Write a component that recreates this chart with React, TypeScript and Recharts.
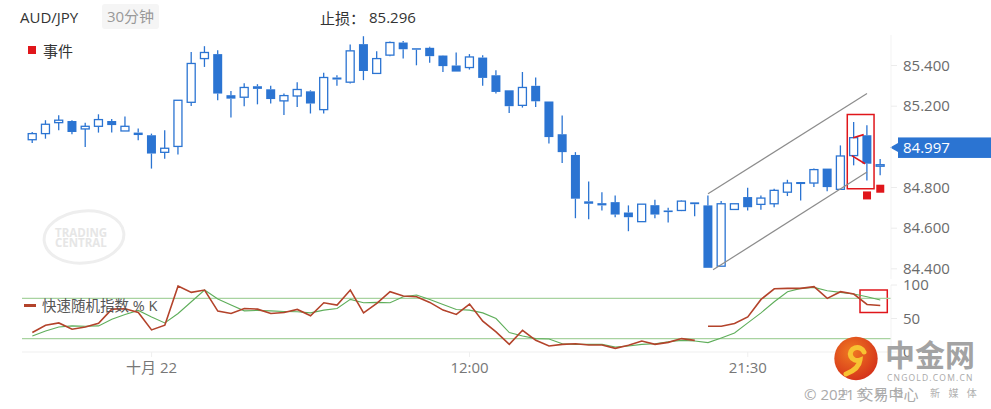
import React from "react";
import {
  ComposedChart,
  Bar,
  Line,
  Scatter,
  XAxis,
  YAxis,
  ReferenceLine,
  ReferenceArea,
} from "recharts";

// AUD/JPY 30分钟 K线 (index 0..64)
const opens = [
  85.035, 85.065, 85.119, 85.127, 85.088, 85.101, 85.127, 85.078, 85.070, 85.057,
  84.973, 85.002, 85.219, 85.434, 85.456, 85.254, 85.244, 85.298, 85.283, 85.226,
  85.250, 85.273, 85.183, 85.341, 85.318, 85.505, 85.361, 85.451, 85.513, 85.485,
  85.487, 85.449, 85.400, 85.390, 85.439, 85.352, 85.278, 85.204, 85.300, 85.223,
  85.062, 84.960, 84.732, 84.723, 84.728, 84.677, 84.632, 84.713, 84.687, 84.687,
  84.727, 84.712, 84.413, 84.692, 84.753, 84.717, 84.720, 84.777, 84.827, 84.822,
  84.893, 84.791, 84.957, 85.057, 84.907,
];
const highs = [
  85.073, 85.131, 85.155, 85.131, 85.119, 85.160, 85.137, 85.149, 85.090, 85.065,
  85.081, 85.229, 85.467, 85.495, 85.475, 85.275, 85.313, 85.308, 85.300, 85.262,
  85.318, 85.278, 85.364, 85.352, 85.503, 85.544, 85.470, 85.518, 85.521, 85.485,
  85.492, 85.451, 85.464, 85.456, 85.451, 85.377, 85.278, 85.368, 85.341, 85.223,
  85.154, 84.974, 84.830, 84.777, 84.761, 84.712, 84.718, 84.740, 84.700, 84.736,
  84.727, 84.761, 84.733, 84.720, 84.799, 84.761, 84.794, 84.838, 84.827, 84.893,
  84.893, 85.007, 85.122, 85.106, 84.940,
];
const lows = [
  85.019, 85.040, 85.081, 85.062, 84.999, 85.070, 85.070, 85.078, 85.032, 84.893,
  84.942, 84.962, 85.201, 85.393, 85.229, 85.144, 85.200, 85.209, 85.213, 85.157,
  85.196, 85.164, 85.164, 85.300, 85.311, 85.328, 85.361, 85.446, 85.434, 85.401,
  85.413, 85.368, 85.370, 85.380, 85.300, 85.262, 85.167, 85.193, 85.196, 85.016,
  84.920, 84.649, 84.644, 84.687, 84.654, 84.585, 84.632, 84.649, 84.628, 84.684,
  84.659, 84.405, 84.413, 84.692, 84.687, 84.691, 84.703, 84.758, 84.736, 84.802,
  84.781, 84.791, 84.909, 84.835, 84.860,
];
const closes = [
  85.065, 85.111, 85.131, 85.073, 85.101, 85.134, 85.107, 85.101, 85.058, 84.967,
  84.993, 85.229, 85.410, 85.464, 85.262, 85.237, 85.292, 85.285, 85.235, 85.252,
  85.282, 85.213, 85.341, 85.331, 85.472, 85.373, 85.434, 85.513, 85.480, 85.479,
  85.446, 85.397, 85.370, 85.442, 85.339, 85.270, 85.200, 85.292, 85.224, 85.048,
  84.974, 84.745, 84.720, 84.712, 84.667, 84.654, 84.718, 84.667, 84.679, 84.733,
  84.718, 84.405, 84.720, 84.720, 84.703, 84.748, 84.786, 84.822, 84.817, 84.888,
  84.802, 84.955, 85.045, 84.917, 84.912,
];

// 快速随机指数 %K (红) 与 %D (绿)
const kFast = [
  29, 40, 43.4, 34, 37.4, 43, 64, 64.5, 59, 33,
  40, 98.5, 89, 92.5, 61, 57.5, 65, 64, 57.5, 59,
  63.5, 54, 73.5, 70, 92.5, 58.4, 72.5, 90, 83.5, 82.4,
  74, 62.5, 56, 71.5, 46, 30, 11.4, 32.4, 17.4, 9,
  11.4, 12.4, 10.4, 10.4, 5.4, 10, 16.4, 11.4, 14.4, 20,
  17.4, 38.4, 38.4, 42.5, 52.4, 78.5, 94.4, 95, 95, 97.5,
  80, 90, 86.5, 71, 69.5,
];
const K_BREAK = 50; // %K 在此之后断开
const dSlow = [
  24, 31.4, 37.4, 39, 38.4, 39, 49, 56, 62, 52.4,
  43.4, 57.5, 75, 92.5, 79, 70, 61.4, 62, 61.4, 60.5,
  60, 58.4, 62.5, 65, 78.5, 73.5, 74, 73.5, 82.4, 85,
  78.5, 71, 63.5, 62.5, 58.4, 50, 29, 24, 20, 19.4,
  12.4, 11.4, 11.4, 11.4, 7.4, 9, 11.4, 12.4, 15.4, 17.4,
  16.4, 14, 21, 28.4, 43.4, 58.4, 75, 90, 95, 96.5,
  91.4, 89, 86.5, 82.4, 77.5,
];

const timeTicks = [9, 33, 54];
const timeLabels = ["十月 22", "12:00", "21:30"];
const priceTicks = [84.4, 84.6, 84.8, 85.2, 85.4];
const stochTicks = [0, 50, 100];
const lastPrice = 84.997;
const stopLoss = "85.296";

const events = [
  { i: 63, p: 84.761 },
  { i: 64, p: 84.794 },
];
const channelUpper = [
  { x: 51, y: 84.769 },
  { x: 63, y: 85.262 },
];
const channelLower = [
  { x: 51.38, y: 84.395 },
  { x: 63, y: 84.876 },
];
const patternTop = [
  { x: 61.95, y: 85.045 },
  { x: 62.75, y: 85.06 },
];
const patternBottom = [
  { x: 61.85, y: 84.957 },
  { x: 62.85, y: 84.917 },
];

const BLUE = "#2b74d2";
const RED = "#e0161b";
const FONT = "'Open Sans', 'Noto Sans CJK SC', sans-serif";
const X_DOMAIN: [number, number] = [-0.78, 64.81];

const rows = opens.map((o, i) => ({
  i,
  o,
  h: highs[i],
  l: lows[i],
  c: closes[i],
  range: [lows[i], highs[i]],
  k1: i <= K_BREAK ? kFast[i] : null,
  k2: i > K_BREAK ? kFast[i] : null,
  d: dSlow[i],
}));

const Candle = (props: any) => {
  const { x, y, width, height, payload } = props;
  const { o, h, l, c } = payload;
  const cx = x + width / 2;
  const ratio = h === l ? 0 : height / (h - l);
  const yOf = (v: number) => y + (h - v) * ratio;
  const up = c >= o;
  const top = yOf(Math.max(o, c));
  const bot = yOf(Math.min(o, c));
  const bh = Math.max(bot - top, 1.5);
  return (
    <g>
      <line x1={cx} x2={cx} y1={y} y2={top} stroke={BLUE} strokeWidth={1.3} />
      <line x1={cx} x2={cx} y1={top + bh} y2={y + height} stroke={BLUE} strokeWidth={1.3} />
      {up ? (
        <rect x={cx - 4} y={top} width={8} height={bh} fill="#fff" stroke={BLUE} strokeWidth={1.3} />
      ) : (
        <rect x={cx - 4.5} y={top} width={9} height={bh} fill={BLUE} />
      )}
    </g>
  );
};

const EventMark = (props: any) => (
  <rect x={props.cx - 4} y={props.cy - 4} width={8} height={8} fill={RED} />
);

const PriceTag = (props: any) => {
  const vb = props.viewBox;
  const x = vb.x + vb.width;
  const y = vb.y;
  return (
    <g>
      <polygon points={`${x - 1},${y} ${x + 7},${y - 4.5} ${x + 7},${y + 4.5}`} fill={BLUE} />
      <rect x={x + 7} y={y - 10} width={100} height={20.5} fill={BLUE} />
      <text x={x + 12} y={y} dy="0.36em" fill="#fff" fontSize={15} fontFamily={FONT}>
        {lastPrice.toFixed(3)}
      </text>
    </g>
  );
};

const axisTick = { fill: "#6b6b6b", fontSize: 15, fontFamily: FONT };

export default function App() {
  return (
    <div style={{ position: "absolute", left: 0, top: 0, width: 991, height: 409, background: "#fff", fontFamily: FONT, overflow: "hidden" }}>
      {/* header */}
      <div style={{ position: "absolute", left: 20, top: 7, fontSize: 15, color: "#333" }}>AUD/JPY</div>
      <div style={{ position: "absolute", left: 102, top: 4, width: 57, height: 25, background: "#f5f5f5", borderRadius: 3, fontSize: 15, color: "#999", textAlign: "center", lineHeight: "25px" }}>
        30分钟
      </div>
      <div style={{ position: "absolute", left: 320, top: 7, fontSize: 15, color: "#333" }}>止损：</div>
      <div style={{ position: "absolute", left: 369, top: 7, fontSize: 15, color: "#333" }}>{stopLoss}</div>
      <div style={{ position: "absolute", left: 28, top: 46, width: 8, height: 8, background: RED }} />
      <div style={{ position: "absolute", left: 43, top: 40, fontSize: 15, color: "#333" }}>事件</div>

      {/* Trading Central watermark */}
      <svg width={991} height={409} style={{ position: "absolute", left: 0, top: 0 }}>
        <ellipse cx={84} cy={237} rx={40} ry={26} fill="none" stroke="#eeeeee" strokeWidth={3} transform="rotate(-6 84 237)" />
        <text x={55} y={237} fontSize={11.5} fontWeight={700} fill="#e6e6e6" fontFamily={FONT}>TRADING</text>
        <text x={55} y={247} fontSize={11.5} fontWeight={700} fill="#e6e6e6" fontFamily={FONT}>CENTRAL</text>
      </svg>

      {/* price chart */}
      <div style={{ position: "absolute", left: 0, top: 0 }}>
        <ComposedChart width={991} height={279} data={rows} margin={{ top: 35, right: 0, bottom: 0, left: 22 }}>
          <XAxis dataKey="i" type="number" domain={X_DOMAIN} allowDataOverflow hide />
          <YAxis
            orientation="right"
            type="number"
            domain={[84.35, 85.55]}
            allowDataOverflow
            ticks={priceTicks}
            tickFormatter={(v: number) => v.toFixed(3)}
            width={100}
            tick={axisTick}
            axisLine={{ stroke: "#f3f3f3" }}
            tickLine={{ stroke: "#ececec" }}
            tickSize={6}
            tickMargin={6}
          />
          <ReferenceLine segment={channelUpper} stroke="#8c8c8c" strokeWidth={1.2} />
          <ReferenceLine segment={channelLower} stroke="#8c8c8c" strokeWidth={1.2} />
          <Bar dataKey="range" barSize={9} shape={(p: any) => <Candle {...p} />} isAnimationActive={false} />
          <ReferenceLine segment={patternTop} stroke={RED} strokeWidth={1.6} />
          <ReferenceLine segment={patternBottom} stroke={RED} strokeWidth={1.6} />
          <ReferenceArea x1={61.51} x2={63.53} y1={84.794} y2={85.159} fill="none" stroke={RED} strokeWidth={1.5} ifOverflow="visible" />
          <Scatter data={events} dataKey="p" shape={(p: any) => <EventMark {...p} />} isAnimationActive={false} />
          <ReferenceLine y={lastPrice} stroke="none" label={(p: any) => <PriceTag {...p} />} />
        </ComposedChart>
      </div>

      {/* stochastic chart */}
      <div style={{ position: "absolute", left: 0, top: 270 }}>
        <ComposedChart width={991} height={139} data={rows} margin={{ top: 15, right: 0, bottom: 27, left: 22 }}>
          <XAxis
            dataKey="i"
            type="number"
            domain={X_DOMAIN}
            allowDataOverflow
            ticks={timeTicks}
            tickFormatter={(v: number) => timeLabels[timeTicks.indexOf(v)] ?? ""}
            height={30}
            tick={{ fill: "#777", fontSize: 15, fontFamily: FONT }}
            axisLine={{ stroke: "#efefef" }}
            tickLine={{ stroke: "#efefef" }}
            tickSize={5}
            tickMargin={5}
          />
          <YAxis
            orientation="right"
            type="number"
            domain={[0, 100]}
            allowDataOverflow
            ticks={stochTicks}
            width={100}
            tick={axisTick}
            axisLine={{ stroke: "#f3f3f3" }}
            tickLine={{ stroke: "#ececec" }}
            tickSize={6}
            tickMargin={6}
          />
          <ReferenceLine y={80} stroke="#a8d3a0" strokeWidth={1.2} />
          <ReferenceLine y={20} stroke="#a8d3a0" strokeWidth={1.2} />
          <Line type="linear" dataKey="d" stroke="#5fae5b" strokeWidth={1.1} dot={false} isAnimationActive={false} />
          <Line type="linear" dataKey="k1" stroke="#b3432b" strokeWidth={1.6} dot={false} isAnimationActive={false} />
          <Line type="linear" dataKey="k2" stroke="#b3432b" strokeWidth={1.6} dot={false} isAnimationActive={false} />
          <ReferenceArea x1={62.47} x2={64.53} y1={59} y2={92.5} fill="none" stroke={RED} strokeWidth={1.5} ifOverflow="visible" />
        </ComposedChart>
      </div>

      {/* stochastic legend */}
      <div style={{ position: "absolute", left: 24, top: 304, width: 12, height: 3, background: "#b3432b" }} />
      <div style={{ position: "absolute", left: 42, top: 294, fontSize: 14.5, color: "#555", whiteSpace: "nowrap" }}>
        快速随机指数 % K
      </div>

      {/* cngold logo watermark */}
      <svg width={991} height={409} style={{ position: "absolute", left: 0, top: 0 }}>
        <defs>
          <radialGradient id="lg" cx="0.4" cy="0.35" r="0.7">
            <stop offset="0%" stopColor="#f07a22" />
            <stop offset="100%" stopColor="#d4301a" />
          </radialGradient>
        </defs>
        <circle cx={856} cy={358.5} r={21.7} fill="url(#lg)" />
        <path d="M 864 352 a 7 6.5 0 1 0 -4 8 q -1 9 -14 14" fill="none" stroke="#f7c332" strokeWidth={5} strokeLinecap="round" />
        <text x={885} y={366} fontSize={30} fontWeight={700} fill="#a3a3a3" fontFamily={FONT}>中金网</text>
        <text x={887} y={381} fontSize={8.5} fill="#a8a8a8" letterSpacing={1.2} fontFamily={FONT}>CNGOLD.COM.CN</text>
        <text x={838} y={397} fontSize={10} fill="#b0b0b0" letterSpacing={8.4} fontFamily={FONT}>中金财经　新媒体</text>
        <text x={804} y={400} fontSize={15} fill="#aaaaaa" fontFamily={FONT}>© 2021 交易中心</text>
      </svg>
    </div>
  );
}
